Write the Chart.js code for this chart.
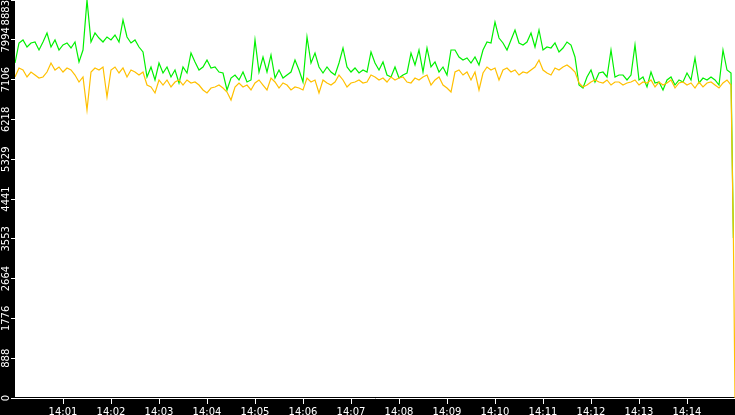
<!DOCTYPE html>
<html>
<head>
<meta charset="utf-8">
<script src="https://cdn.jsdelivr.net/npm/chart.js@4/dist/chart.umd.min.js"></script>
<style>
  html, body { margin: 0; padding: 0; background: #000; }
  #wrap { width: 735px; height: 415px; }
</style>
</head>
<body>
<div id="wrap"><canvas id="chart" width="735" height="415"></canvas></div>
<script>
// time axis: seconds after 14:00:00, one sample every 5 s, then the drop at the end
const seconds = Array.from({ length: 180 }, (_, i) => i * 5).concat([898, 900]);

const x_tick_labels = ["14:01", "14:02", "14:03", "14:04", "14:05", "14:06", "14:07",
  "14:08", "14:09", "14:10", "14:11", "14:12", "14:13", "14:14"];
const y_tick_labels = ["0", "888", "1776", "2664", "3553", "4441", "5329", "6218", "7106", "7994", "8883"];
const y_max = 8883.3;

const green_values = [
  7477, 7924, 7991, 7834, 7924, 7946, 7767, 7946, 8147, 7834,
  7991, 7767, 7879, 7924, 7812, 7946, 7500, 7767, 8883, 7946,
  8147, 8035, 7946, 8058, 7991, 8102, 7946, 8437, 8058, 7924,
  7991, 7834, 7723, 7165, 7388, 7098, 7477, 7254, 7388, 7165,
  7321, 7031, 7388, 7254, 7700, 7500, 7321, 7388, 7544, 7366,
  7388, 7276, 7254, 6875, 7142, 7209, 7098, 7276, 7053, 7098,
  7991, 7276, 7611, 7276, 7656, 7142, 7321, 7142, 7209, 7276,
  7544, 7321, 7053, 8058, 7477, 7700, 7388, 7254, 7388, 7276,
  7209, 7477, 7812, 7388, 7276, 7366, 7254, 7321, 7276, 7723,
  7477, 7321, 7500, 7209, 7165, 7388, 7142, 7209, 7254, 7700,
  7433, 7767, 7276, 7812, 7388, 7500, 7276, 7388, 7209, 7767,
  7767, 7611, 7544, 7589, 7477, 7611, 7433, 7767, 7946, 7924,
  8392, 8035, 7924, 7767, 7991, 8214, 7924, 7879, 7946, 8147,
  7834, 8214, 7767, 7834, 7812, 7924, 7723, 7812, 7946, 7879,
  7611, 6986, 6919, 7165, 7321, 7053, 7254, 7276, 7165, 7767,
  7165, 7209, 7209, 7098, 7209, 7879, 7098, 7165, 6942, 7276,
  7031, 7053, 6875, 7098, 7165, 6986, 7098, 7053, 7254, 7098,
  7589, 7031, 7142, 7098, 7165, 7098, 6986, 7767, 7321, 7254,
  3570, null
];

const orange_values = [
  7165, 7366, 7321, 7165, 7276, 7209, 7142, 7165, 7276, 7477,
  7321, 7388, 7276, 7366, 7321, 7209, 7053, 7165, 6428, 7276,
  7366, 7321, 7388, 6718, 7321, 7388, 7254, 7366, 7165, 7321,
  7276, 7209, 7276, 6986, 6942, 6808, 7098, 6986, 7098, 6942,
  7053, 7098, 6986, 7098, 7031, 7053, 6986, 6875, 6808, 6919,
  6942, 6986, 6919, 6830, 6651, 6942, 7031, 6942, 6986, 6875,
  7031, 7098, 6986, 6875, 7142, 7053, 6919, 7031, 6986, 6875,
  6942, 6919, 6875, 7142, 7053, 7098, 6808, 7098, 7031, 6986,
  7053, 7209, 7098, 6942, 7031, 7053, 7098, 7031, 7053, 7209,
  7165, 7098, 7142, 7053, 7165, 7098, 7142, 7165, 7053, 7031,
  7142, 7098, 7165, 7209, 6986, 7098, 7165, 6986, 6919, 6830,
  7276, 7321, 7209, 7276, 7098, 7276, 6875, 7254, 7388, 7321,
  7366, 7098, 7321, 7366, 7276, 7321, 7209, 7276, 7254, 7321,
  7388, 7544, 7321, 7254, 7209, 7366, 7321, 7388, 7433, 7366,
  7276, 7031, 6942, 6986, 7053, 7098, 7053, 7031, 7098, 6986,
  7053, 7053, 6986, 7031, 7053, 7098, 6986, 7053, 7031, 7098,
  6942, 7053, 6986, 7031, 7098, 6919, 7031, 7053, 6986, 7031,
  6919, 7053, 6942, 7031, 7053, 6986, 6919, 7031, 7098, 6986,
  3570, 0
];

const to_points = (values) => values.map((v, i) => ({ x: seconds[i], y: v }));

// black frame round a white plot area
const background = {
  id: "background",
  beforeDraw(chart) {
    const { ctx, chartArea: a } = chart;
    ctx.save();
    ctx.fillStyle = "#000";
    ctx.fillRect(0, 0, chart.width, chart.height);
    ctx.fillStyle = "#fff";
    ctx.fillRect(a.left, a.top, a.right - a.left, a.bottom - a.top - 1);
    ctx.restore();
  }
};

// y labels run bottom to top, centred on their tick
const y_labels = {
  id: "y_labels",
  afterDraw(chart) {
    const { ctx } = chart;
    const scale = chart.scales.y;
    ctx.save();
    ctx.font = "10px 'DejaVu Sans'";
    ctx.fillStyle = "#fff";
    ctx.textAlign = "center";
    ctx.textBaseline = "middle";
    scale.ticks.forEach((tick, i) => {
      const label = y_tick_labels[i];
      const half = ctx.measureText(label).width / 2;
      let y = scale.getPixelForValue(tick.value);
      y = Math.min(Math.max(y, half), chart.height - half);
      ctx.save();
      ctx.translate(6.5, y);
      ctx.rotate(-Math.PI / 2);
      ctx.fillText(label, 0, 0);
      ctx.restore();
    });
    ctx.restore();
  }
};

Chart.defaults.font.family = "'DejaVu Sans'";
Chart.defaults.font.size = 10;

const ctx = document.getElementById("chart").getContext("2d");
const chart = new Chart(ctx, {
  type: "line",
  data: {
    datasets: [
      {
        label: "orange",
        data: to_points(orange_values),
        borderColor: "#ffc000",
        borderWidth: 1.2,
      },
      {
        label: "green",
        data: to_points(green_values),
        borderColor: "#00f000",
        borderWidth: 1.2,
      },
    ],
  },
  options: {
    responsive: false,
    animation: false,
    devicePixelRatio: 1,
    layout: { padding: 0 },
    elements: {
      point: { radius: 0 },
      line: { tension: 0 },
    },
    plugins: {
      legend: { display: false },
      tooltip: { enabled: false },
    },
    scales: {
      x: {
        type: "linear",
        min: 0,
        max: 900,
        afterBuildTicks: (scale) => {
          scale.ticks = x_tick_labels.map((l, i) => ({ value: (i + 1) * 60 }));
        },
        afterFit: (scale) => { scale.height = 17; },
        ticks: {
          color: "#fff",
          padding: 2,
          maxRotation: 0,
          autoSkip: false,
          callback: (value, index) => x_tick_labels[index],
        },
        grid: {
          drawOnChartArea: false,
          tickLength: 6,
          tickColor: "#fff",
        },
        border: { display: true, color: "#fff", width: 1 },
      },
      y: {
        min: 0,
        max: y_max,
        afterBuildTicks: (scale) => {
          scale.ticks = y_tick_labels.map((l, i) => ({ value: i * y_max / 10 }));
        },
        afterFit: (scale) => { scale.width = 15; },
        ticks: { display: false },
        grid: {
          drawOnChartArea: false,
          tickLength: 4,
          tickColor: "#fff",
        },
        border: { display: false },
      },
    },
  },
  plugins: [background, y_labels],
});
</script>
</body>
</html>
